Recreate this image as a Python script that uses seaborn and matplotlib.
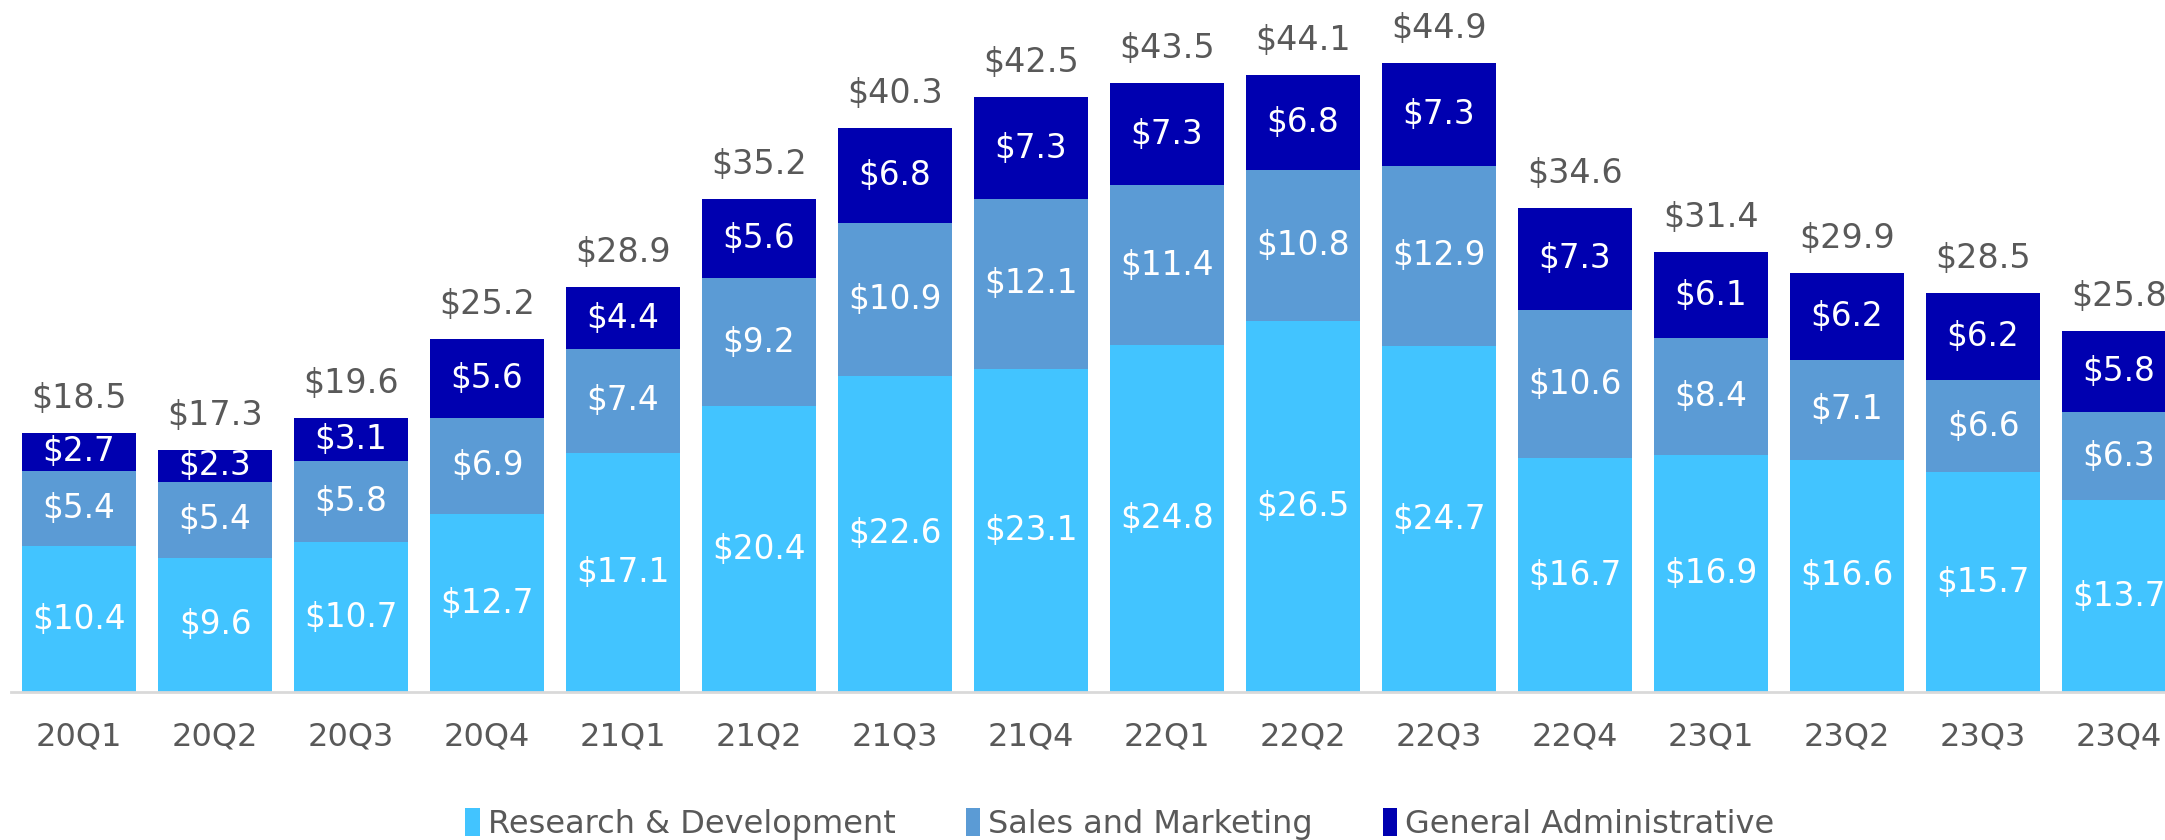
import numpy as np
import pandas as pd
import seaborn as sns
import matplotlib.pyplot as plt
from matplotlib.patches import Patch

quarters = ["20Q1", "20Q2", "20Q3", "20Q4", "21Q1", "21Q2", "21Q3", "21Q4",
            "22Q1", "22Q2", "22Q3", "22Q4", "23Q1", "23Q2", "23Q3", "23Q4"]
rnd = [10.4, 9.6, 10.7, 12.7, 17.1, 20.4, 22.6, 23.1, 24.8, 26.5, 24.7, 16.7, 16.9, 16.6, 15.7, 13.7]
sales = [5.4, 5.4, 5.8, 6.9, 7.4, 9.2, 10.9, 12.1, 11.4, 10.8, 12.9, 10.6, 8.4, 7.1, 6.6, 6.3]
admin = [2.7, 2.3, 3.1, 5.6, 4.4, 5.6, 6.8, 7.3, 7.3, 6.8, 7.3, 7.3, 6.1, 6.2, 6.2, 5.8]
totals = [18.5, 17.3, 19.6, 25.2, 28.9, 35.2, 40.3, 42.5, 43.5, 44.1, 44.9, 34.6, 31.4, 29.9, 28.5, 25.8]
series = ["Research & Development", "Sales and Marketing", "General Administrative"]
colors = ["#42C4FF", "#5B9BD5", "#0000B0"]
grey = "#595959"

df = pd.DataFrame({"Quarter": quarters, "rnd": rnd, "sales": sales, "admin": admin})
df["lvl1"] = df["rnd"]
df["lvl2"] = df["rnd"] + df["sales"]
df["lvl3"] = df["lvl2"] + df["admin"]

sns.set_style("white")
plt.rcParams["font.family"] = ["DejaVu Sans"]

W, H = 2165, 840
fig = plt.figure(figsize=(W / 100, H / 100), dpi=100)
# px per unit ~14, bar pitch ~136px; axes runs past the right edge like the original
ax = fig.add_axes([11 / W, 148 / H, 2176 / W, 686 / H])

# layered bars: tallest (cumulative) first
for col, c in zip(["lvl3", "lvl2", "lvl1"], colors[::-1]):
    sns.barplot(data=df, x="Quarter", y=col, color=c, width=0.84,
                saturation=1, linewidth=0, ax=ax)

ax.set_xlim(-0.5, 15.5)
ax.set_ylim(0, 49)

# segment labels
for i in range(len(quarters)):
    mids = [rnd[i] / 2, rnd[i] + sales[i] / 2, rnd[i] + sales[i] + admin[i] / 2]
    vals = [rnd[i], sales[i], admin[i]]
    for m, v in zip(mids, vals):
        ax.text(i, m, f"${v:.1f}", ha="center", va="center", color="white", fontsize=23.5)
    ax.annotate(f"${totals[i]:.1f}", (i, totals[i]), xytext=(0, 18), textcoords="offset points",
                ha="center", va="baseline", color=grey, fontsize=24)

sns.despine(ax=ax, left=True)
ax.spines["bottom"].set_color("#D9D9D9")
ax.spines["bottom"].set_linewidth(2)
ax.set_yticks([])
ax.set_xlabel("")
ax.set_ylabel("")
ax.tick_params(axis="x", length=0, pad=21, labelsize=23, labelcolor=grey)

handles = [Patch(facecolor=c, edgecolor="none") for c in colors]
fig.legend(handles, series, loc="center", bbox_to_anchor=(1120 / W, 16 / H),
           ncol=3, frameon=False, fontsize=23, labelcolor=grey,
           handlelength=0.45, handleheight=1.0, handletextpad=0.25, columnspacing=2.2)

fig.savefig("out.png", dpi=100)
